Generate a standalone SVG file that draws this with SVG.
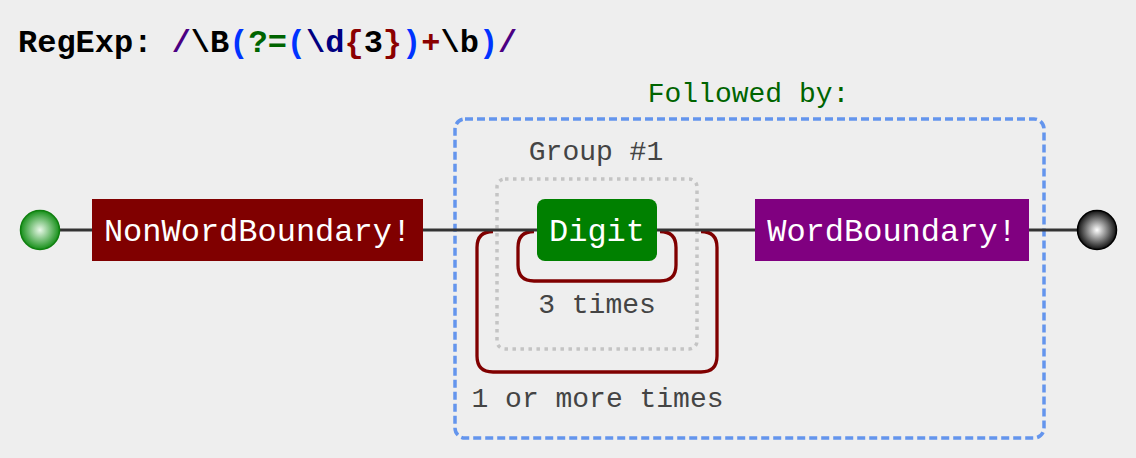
<svg xmlns="http://www.w3.org/2000/svg" width="1136" height="458" viewBox="0 0 1136 458">
  <defs>
    <radialGradient id="startGrad" cx="50%" cy="50%" r="50%">
      <stop offset="0%" stop-color="#e8f8e8"/>
      <stop offset="100%" stop-color="#17901a"/>
    </radialGradient>
    <radialGradient id="endGrad" cx="50%" cy="50%" r="50%">
      <stop offset="0%" stop-color="#ffffff"/>
      <stop offset="100%" stop-color="#111111"/>
    </radialGradient>
    <style>
      .mono { font-family: "Liberation Mono", "Courier New", monospace; }
      .title { font-size: 32px; font-weight: bold; }
      .label { font-size: 28px; fill: #444; text-anchor: middle; }
      .nodetext { font-size: 32px; fill: #fff; text-anchor: middle; }
      .conn { stroke: #333; stroke-width: 3; fill: none; }
      .loop { stroke: #800000; stroke-width: 3.3; fill: none; }
    </style>
  </defs>
  <rect x="0" y="0" width="1136" height="458" fill="#eeeeee"/>

  <g id="title">
    <text class="mono title" x="18" y="52"><tspan fill="#000">RegExp: </tspan><tspan fill="#4b0082">/</tspan><tspan fill="#000">\B</tspan><tspan fill="#0033ff">(</tspan><tspan fill="#006400">?=</tspan><tspan fill="#0033ff">(</tspan><tspan fill="#000080">\d</tspan><tspan fill="#8b0000">{</tspan><tspan fill="#000">3</tspan><tspan fill="#8b0000">}</tspan><tspan fill="#0033ff">)</tspan><tspan fill="#8b0000">+</tspan><tspan fill="#000">\b</tspan><tspan fill="#0033ff">)</tspan><tspan fill="#4b0082">/</tspan></text>
  </g>

  <g id="lookahead">
    <rect x="455" y="119" width="589" height="319" rx="10" ry="10" fill="none" stroke="#6495ed" stroke-width="3.5" stroke-dasharray="8,4"/>
    <text class="mono label" x="748.5" y="102" style="fill:#006400">Followed by:</text>
  </g>

  <g id="group1">
    <rect x="497" y="179" width="200" height="170" rx="8" ry="8" fill="none" stroke="#c4c4c4" stroke-width="3.5" stroke-dasharray="3.5,4.5"/>
    <text class="mono label" x="596" y="160">Group #1</text>
  </g>

  <g id="repeat-outer">
    <path class="loop" d="M 493,231.5 q -16,0 -16,16 V 356 q 0,16 16,16 H 701 q 16,0 16,-16 V 247.5 q 0,-16 -16,-16"/>
    <text class="mono label" x="597.5" y="407">1 or more times</text>
  </g>

  <g id="repeat-inner">
    <path class="loop" d="M 534,231.5 q -16,0 -16,16 V 265 q 0,16 16,16 H 660 q 16,0 16,-16 V 247.5 q 0,-16 -16,-16"/>
    <text class="mono label" x="597" y="313">3 times</text>
  </g>

  <g id="connectors">
    <path class="conn" d="M 60,230 H 92"/>
    <path class="conn" d="M 423,230 H 537"/>
    <path class="conn" d="M 657,230 H 755"/>
    <path class="conn" d="M 1029,230 H 1077"/>
  </g>

  <g id="start">
    <circle cx="40" cy="230" r="19.5" fill="url(#startGrad)" stroke="#0f7f0f" stroke-width="1.5"/>
  </g>

  <g id="nonwordboundary">
    <rect x="92" y="199" width="331" height="62" fill="#800000"/>
    <text class="mono nodetext" x="257.5" y="241">NonWordBoundary!</text>
  </g>

  <g id="digit">
    <rect x="537" y="199" width="120" height="62" rx="8" ry="8" fill="#008000"/>
    <text class="mono nodetext" x="597" y="241">Digit</text>
  </g>

  <g id="wordboundary">
    <rect x="755" y="199" width="274" height="62" fill="#800080"/>
    <text class="mono nodetext" x="892" y="241">WordBoundary!</text>
  </g>

  <g id="end">
    <circle cx="1097" cy="230" r="19.5" fill="url(#endGrad)" stroke="#000" stroke-width="1.5"/>
  </g>
</svg>
